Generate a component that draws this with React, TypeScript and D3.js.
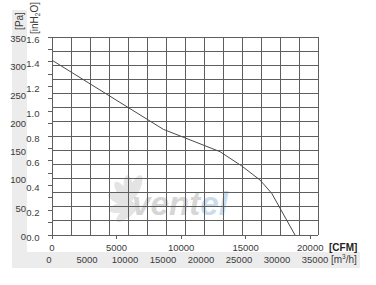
import React from "react";
import * as d3 from "d3";

// Fan curve (flow in m3/h, static pressure in Pa)
const flowM3h = [0, 14645, 22105, 24960, 27370, 28908, 31974];
const pressurePa = [309, 186.8, 147.3, 122, 97.2, 73.7, 0];

const paTicks = [0, 50, 100, 150, 200, 250, 300, 350];
const inH2OTicks = [0.0, 0.2, 0.4, 0.6, 0.8, 1.0, 1.2, 1.4, 1.6];
const cfmTicks = [0, 5000, 10000, 15000, 20000];
const m3hTicks = [0, 5000, 10000, 15000, 20000, 25000, 30000, 35000];

const CFM_TO_M3H = 1.699;
const FONT = "'Liberation Sans Narrow', 'Arial Narrow', 'Liberation Sans', Arial, sans-serif";

export default function App() {
  const W = 376, H = 285;
  const x = d3.scaleLinear().domain([0, 35000]).range([52, 318]);
  const y = d3.scaleLinear().domain([0, 350]).range([235, 37]);
  const yIn = d3.scaleLinear().domain([0, 1.6]).range([235, 37]);

  const vGrid = d3.range(0, 35001, 2500);
  const hGrid = d3.range(0, 351, 25);
  const inMinor = d3.range(0, 16.01, 1).map((v) => v / 10);

  const line = d3
    .line<number>()
    .x((_, i) => x(flowM3h[i]))
    .y((d) => y(d));

  const gridColor = "#5e5e5e";
  const textColor = "#3a3a3a";

  // fan watermark blades
  const cx = 134, cy = 201;
  const bladeAngles = [150, 185, 215, 245, 275, 120];

  return (
    <svg width={W} height={H} style={{ position: "absolute", left: 0, top: 0, background: "#fff" }}>
      {/* gray label backgrounds */}
      <rect x={12} y={10} width={15} height={258} fill="#ececec" />
      <rect x={12} y={252} width={348} height={16} fill="#ececec" />

      {/* watermark */}
      <g>
        {bladeAngles.map((a, i) => {
          const bx = cx + Math.cos((a * Math.PI) / 180) * 13;
          const by = cy + Math.sin((a * Math.PI) / 180) * 13;
          return (
            <ellipse key={i} cx={bx} cy={by} rx={14} ry={5} fill="#e4e4e4" transform={`rotate(${a + 20}, ${bx}, ${by})`} />
          );
        })}
        <text x={132} y={215} fontFamily="'Liberation Sans', Arial, sans-serif" fontWeight="bold" fontStyle="italic" fontSize={34} textLength={96} lengthAdjust="spacingAndGlyphs">
          <tspan fill="#d6d6d6">vent</tspan>
          <tspan fill="#c9dced">el</tspan>
        </text>
      </g>

      {/* grid */}
      {vGrid.map((v) => (
        <line key={"v" + v} x1={x(v)} x2={x(v)} y1={y(0)} y2={y(350)} stroke={gridColor} strokeWidth={1} shapeRendering="crispEdges" />
      ))}
      {hGrid.map((v) => (
        <line key={"h" + v} x1={x(0)} x2={x(35000)} y1={y(v)} y2={y(v)} stroke={gridColor} strokeWidth={1} shapeRendering="crispEdges" />
      ))}

      {/* left minor ticks (inH2O) */}
      {inMinor.map((v) => (
        <line key={"t" + v} x1={x(0) - 4} x2={x(0)} y1={yIn(v)} y2={yIn(v)} stroke={gridColor} strokeWidth={1} shapeRendering="crispEdges" />
      ))}
      {/* bottom ticks (CFM) */}
      {cfmTicks.map((v) => (
        <line key={"c" + v} x1={x(v * CFM_TO_M3H)} x2={x(v * CFM_TO_M3H)} y1={y(0)} y2={y(0) + 4} stroke={gridColor} strokeWidth={1} shapeRendering="crispEdges" />
      ))}

      {/* curve */}
      <path d={line(pressurePa) || ""} fill="none" stroke="#4a4a4a" strokeWidth={1} />

      {/* Pa labels */}
      {paTicks.map((v) => (
        <text key={"pa" + v} x={26} y={y(v) + 2.5} textAnchor="end" dominantBaseline="middle" fontFamily={FONT} fontSize={9.5} fill={textColor}>{v}</text>
      ))}
      {/* inH2O labels */}
      {inH2OTicks.map((v) => (
        <text key={"in" + v} x={39.5} y={yIn(v) + 3} textAnchor="end" dominantBaseline="middle" fontFamily={FONT} fontSize={9.5} fill={textColor}>{v.toFixed(1)}</text>
      ))}
      {/* CFM labels */}
      {cfmTicks.map((v) => (
        <text key={"cfm" + v} x={x(v * CFM_TO_M3H)} y={248} textAnchor="middle" dominantBaseline="middle" fontFamily={FONT} fontSize={9.5} fill={textColor}>{v}</text>
      ))}
      {/* m3/h labels */}
      {m3hTicks.map((v) => (
        <text key={"m" + v} x={x(v) - 3} y={260} textAnchor="middle" dominantBaseline="middle" fontFamily={FONT} fontSize={9.5} fill={textColor}>{v}</text>
      ))}

      {/* unit labels */}
      <text x={329} y={248} dominantBaseline="middle" fontFamily={FONT} fontWeight="bold" fontSize={10} fill="#222">[CFM]</text>
      <text x={331} y={260} dominantBaseline="middle" fontFamily={FONT} fontSize={10} fill={textColor}>
        [m<tspan fontSize={6.5} dy={-3}>3</tspan><tspan dy={3}>/h]</tspan>
      </text>
      <text transform="translate(23,21) rotate(-90)" textAnchor="middle" fontFamily={FONT} fontSize={10} fill={textColor}>[Pa]</text>
      <text transform="translate(37.5,18) rotate(-90)" textAnchor="middle" fontFamily={FONT} fontSize={10} fill={textColor}>
        [inH<tspan fontSize={6.5} dy={2}>2</tspan><tspan dy={-2}>O]</tspan>
      </text>
    </svg>
  );
}
